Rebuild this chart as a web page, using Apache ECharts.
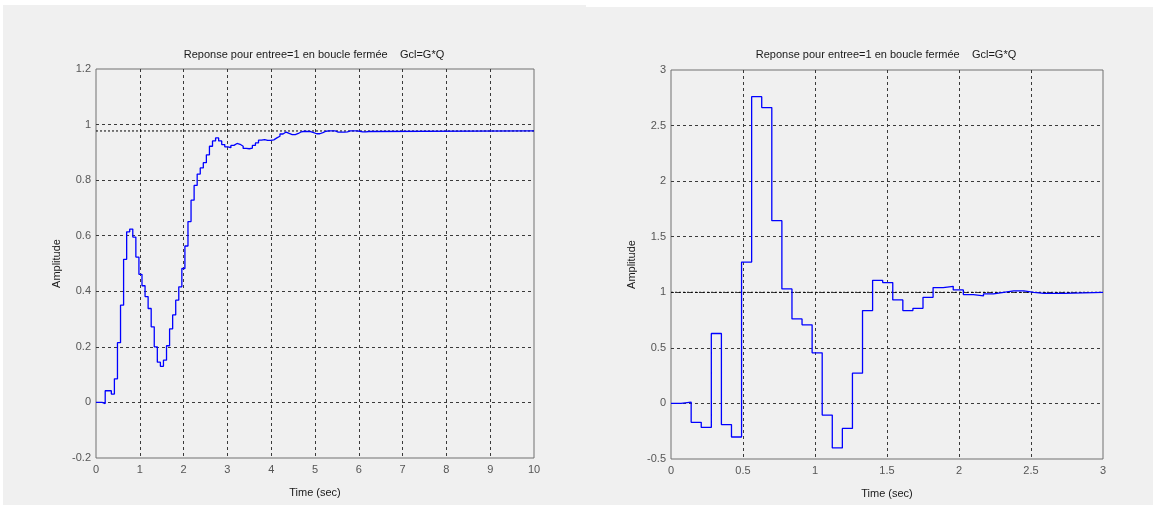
<!DOCTYPE html>
<html>
<head>
<meta charset="utf-8">
<script src="https://cdn.jsdelivr.net/npm/echarts@6/dist/echarts.min.js"></script>
<style>
  html, body { margin: 0; padding: 0; background: #ffffff; }
  #chart { width: 1156px; height: 508px; }
</style>
</head>
<body>
<div id="chart"></div>
<script>
// Sampling period of the discrete closed-loop system (s)
const Ts = 0.07;

// Left: closed-loop step response samples
const leftAmplitude = [
  0, 0, -0.004, 0.042, 0.042, 0.03, 0.085, 0.215, 0.35, 0.515,
  0.614, 0.624, 0.595, 0.523, 0.461, 0.42, 0.381, 0.338, 0.272, 0.2,
  0.145, 0.13, 0.152, 0.204, 0.265, 0.315, 0.368, 0.416, 0.482, 0.563,
  0.651, 0.728, 0.781, 0.822, 0.844, 0.863, 0.891, 0.922, 0.941, 0.952,
  0.941, 0.928, 0.92, 0.917, 0.925, 0.932, 0.929, 0.922, 0.914, 0.913,
  0.915, 0.925, 0.934, 0.944, 0.946, 0.943, 0.943, 0.945, 0.952, 0.958,
  0.966, 0.973, 0.968, 0.964, 0.964, 0.968, 0.974, 0.976, 0.975, 0.975,
  0.971, 0.967, 0.967, 0.971, 0.976, 0.977, 0.977, 0.977, 0.973, 0.973,
  0.973, 0.974, 0.977, 0.977, 0.977, 0.976, 0.974, 0.974, 0.975, 0.977
];
const leftFinal = [0.977];
const leftTimeRange = [0, 10];
const leftTimeTicks = ['0', '1', '2', '3', '4', '5', '6', '7', '8', '9', '10'];
const leftAmpTicks = ['-0.2', '0', '0.2', '0.4', '0.6', '0.8', '1', '1.2'];

// Right: closed-loop step response samples
const rightAmplitude = [
  0, 0.012, -0.17, -0.216, 0.629, -0.19, -0.302, 1.272, 2.76, 2.662,
  1.644, 1.03, 0.76, 0.707, 0.455, -0.105, -0.40, -0.225, 0.272, 0.835,
  1.108, 1.087, 0.931, 0.835, 0.856, 0.955, 1.042, 1.054, 1.021, 0.979,
  0.967, 0.985, 1.0, 1.012, 1.012, 1.0, 0.991, 0.991, 0.991, 1.0
];
const rightFinal = [1];
const rightTimeRange = [0, 3];
const rightTimeTicks = ['0', '0.5', '1', '1.5', '2', '2.5', '3'];
const rightAmpTicks = ['-0.5', '0', '0.5', '1', '1.5', '2', '2.5', '3'];

const titleText = 'Reponse pour entree=1 en boucle fermée    Gcl=G*Q';

// Zero-order-hold samples, held until the end of the time axis
function stairs(values, tEnd) {
  const pts = values.map((v, i) => [+(i * Ts).toFixed(4), v]);
  pts.push([tEnd, values[values.length - 1]]);
  return pts;
}

const FONT = '"Liberation Sans", Arial, Helvetica, sans-serif';
const gridDash = { color: '#3a3a3a', width: 1, type: [3, 3] };
const labelFmt = v => String(+(+v).toFixed(3));

function xAxisFor(gridIndex, range, ticks) {
  const step = (+ticks[1]) - (+ticks[0]);
  return {
    type: 'value', gridIndex, min: range[0], max: range[1], interval: step,
    name: 'Time (sec)', nameLocation: 'middle', nameGap: 29,
    nameTextStyle: { color: '#1a1a1a', fontSize: 11, fontFamily: FONT },
    axisLine: { show: false },
    axisTick: { show: false },
    axisLabel: { color: '#555', fontSize: 11, fontFamily: FONT, margin: 6, formatter: labelFmt },
    splitLine: { show: true, showMinLine: false, showMaxLine: false, lineStyle: gridDash }
  };
}
function yAxisFor(gridIndex, ticks) {
  const step = (+ticks[1]) - (+ticks[0]);
  return {
    type: 'value', gridIndex, min: +ticks[0], max: +ticks[ticks.length - 1], interval: step,
    name: 'Amplitude', nameLocation: 'middle', nameGap: 34,
    nameTextStyle: { color: '#1a1a1a', fontSize: 11, fontFamily: FONT },
    axisLine: { show: false },
    axisTick: { show: false },
    axisLabel: { color: '#555', fontSize: 11, fontFamily: FONT, margin: 5, formatter: labelFmt },
    splitLine: { show: true, showMinLine: false, showMaxLine: false, lineStyle: gridDash }
  };
}

const chart = echarts.init(document.getElementById('chart'), null, { renderer: 'canvas' });
chart.setOption({
  animation: false,
  backgroundColor: '#ffffff',
  graphic: [
    { type: 'rect', z: -10, silent: true, shape: { x: 3, y: 5, width: 583, height: 500 }, style: { fill: '#f0f0f0' } },
    { type: 'rect', z: -10, silent: true, shape: { x: 586, y: 7, width: 567, height: 498 }, style: { fill: '#f0f0f0' } }
  ],
  title: [
    { text: titleText, left: 309, top: 44, textAlign: 'center',
      textStyle: { fontSize: 11, fontWeight: 'normal', color: '#1a1a1a', fontFamily: FONT } },
    { text: titleText, left: 881, top: 44, textAlign: 'center',
      textStyle: { fontSize: 11, fontWeight: 'normal', color: '#1a1a1a', fontFamily: FONT } }
  ],
  grid: [
    { left: 96, top: 69, width: 438, height: 389, show: true, borderColor: '#707070', borderWidth: 1, backgroundColor: 'transparent' },
    { left: 671, top: 70, width: 432, height: 389, show: true, borderColor: '#707070', borderWidth: 1, backgroundColor: 'transparent' }
  ],
  xAxis: [
    xAxisFor(0, leftTimeRange, leftTimeTicks),
    xAxisFor(1, rightTimeRange, rightTimeTicks)
  ],
  yAxis: [
    yAxisFor(0, leftAmpTicks),
    yAxisFor(1, rightAmpTicks)
  ],
  series: [
    { type: 'line', xAxisIndex: 0, yAxisIndex: 0, showSymbol: false, silent: true,
      data: [[leftTimeRange[0], leftFinal[0]], [leftTimeRange[1], leftFinal[0]]],
      lineStyle: { color: '#000000', width: 1, type: [2, 2] } },
    { type: 'line', xAxisIndex: 0, yAxisIndex: 0, showSymbol: false, silent: true, step: 'end',
      data: stairs(leftAmplitude, leftTimeRange[1]),
      lineStyle: { color: '#0000ff', width: 1.3 } },
    { type: 'line', xAxisIndex: 1, yAxisIndex: 1, showSymbol: false, silent: true,
      data: [[rightTimeRange[0], rightFinal[0]], [rightTimeRange[1], rightFinal[0]]],
      lineStyle: { color: '#000000', width: 1, type: [2, 2] } },
    { type: 'line', xAxisIndex: 1, yAxisIndex: 1, showSymbol: false, silent: true, step: 'end',
      data: stairs(rightAmplitude, rightTimeRange[1]),
      lineStyle: { color: '#0000ff', width: 1.3 } }
  ]
});
</script>
</body>
</html>
